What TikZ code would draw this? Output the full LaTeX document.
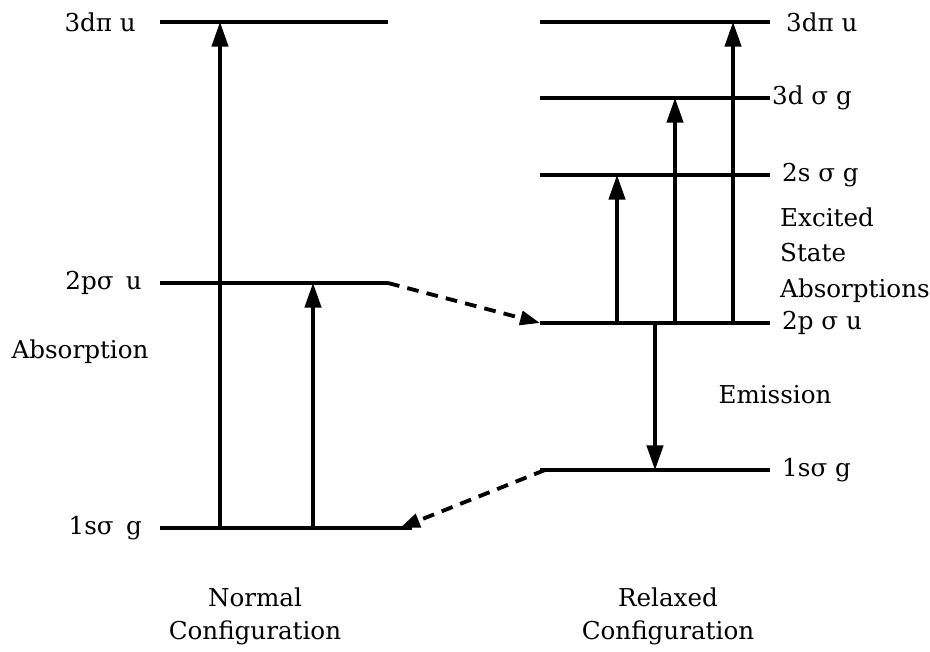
\documentclass[tikz,border=0pt]{standalone}
\usepackage{fontspec}
\setmainfont{DejaVu Serif}
\usepackage{tikz}
\usetikzlibrary{arrows.meta,positioning}

\tikzset{
  level/.style = {line width=2.6pt},
  trans/.style = {line width=2.6pt, -{Triangle[length=21pt,width=14pt]}},
  relax/.style = {line width=3.3pt, dash pattern=on 10pt off 7pt, -{Triangle[length=17pt,width=12pt]}},
  lbl/.style = {font=\fontsize{21}{30.5}\selectfont, inner sep=0pt}
}

\begin{document}
\begin{tikzpicture}[x=0.3mm, y=-0.3mm]
  \useasboundingbox (0,0) rectangle (930,652);

  % normal configuration levels
  \coordinate (nPiL) at (160,22);  \coordinate (nPiR) at (388,22);
  \coordinate (nPuL) at (160,283); \coordinate (nPuR) at (388,283);
  \coordinate (nSgL) at (160,528); \coordinate (nSgR) at (412,528);
  \draw[level] (nPiL) -- (nPiR);
  \draw[level] (nPuL) -- (nPuR);
  \draw[level] (nSgL) -- (nSgR);
  \node[lbl, anchor=east] (tnPi) at (136,22)  {3dπ u};
  \node[lbl, anchor=east] (tnPu) at (142,283) {2pσ\enspace u};
  \node[lbl, anchor=east] (tnSg) at (142,528) {1sσ\enspace g};

  % relaxed configuration levels
  \coordinate (rPiL) at (540,22);  \coordinate (rPiR) at (770,22);
  \coordinate (rDgL) at (540,98);  \coordinate (rDgR) at (770,98);
  \coordinate (rSgL) at (540,175); \coordinate (rSgR) at (770,175);
  \coordinate (rPuL) at (540,323); \coordinate (rPuR) at (770,323);
  \coordinate (rGgL) at (540,470); \coordinate (rGgR) at (770,470);
  \foreach \a/\b in {rPiL/rPiR, rDgL/rDgR, rSgL/rSgR, rPuL/rPuR, rGgL/rGgR}
    \draw[level] (\a) -- (\b);
  \node[lbl, anchor=west] (trPi) at (786,22)  {3dπ u};
  \node[lbl, anchor=west] (trDg) at (772,98)  {3d σ g};
  \node[lbl, anchor=west] (trSg) at (782,175) {2s σ g};
  \node[lbl, anchor=west] (trPu) at (782,323) {2p σ u};
  \node[lbl, anchor=west] (trGg) at (782,470) {1sσ g};

  % absorptions
  \coordinate (a1) at (220,528); \coordinate (a1t) at (220,22);
  \coordinate (a2) at (313,528); \coordinate (a2t) at (313,283);
  \draw[trans] (a1) -- (a1t);
  \draw[trans] (a2) -- (a2t);

  % excited state absorptions and emission
  \coordinate (e1) at (617,323); \coordinate (e1t) at (617,175);
  \coordinate (e2) at (675,323); \coordinate (e2t) at (675,98);
  \coordinate (e3) at (733,323); \coordinate (e3t) at (733,22);
  \coordinate (em) at (655,323); \coordinate (emt) at (655,470);
  \draw[trans] (e1) -- (e1t);
  \draw[trans] (e2) -- (e2t);
  \draw[trans] (e3) -- (e3t);
  \draw[trans] (em) -- (emt);

  % relaxation
  \coordinate (rGgS) at (545,470);
  \draw[relax] (nPuR) -- (rPuL);
  \draw[relax] (rGgS) -- (400,528);

  \node[lbl] (abs) at (80,352) {Absorption};
  \node[lbl] (emis) at (775,395) {Emission};
  \node[lbl, anchor=west, align=left] (esa) at (780,255) {Excited\\State\\Absorptions};
  \node[lbl, align=center, font=\fontsize{21}{28}\selectfont] (norm) at (255,616) {Normal\\Configuration};
  \node[lbl, align=center, font=\fontsize{21}{28}\selectfont] (rel) at (668,616) {Relaxed\\Configuration};
\end{tikzpicture}
\end{document}
